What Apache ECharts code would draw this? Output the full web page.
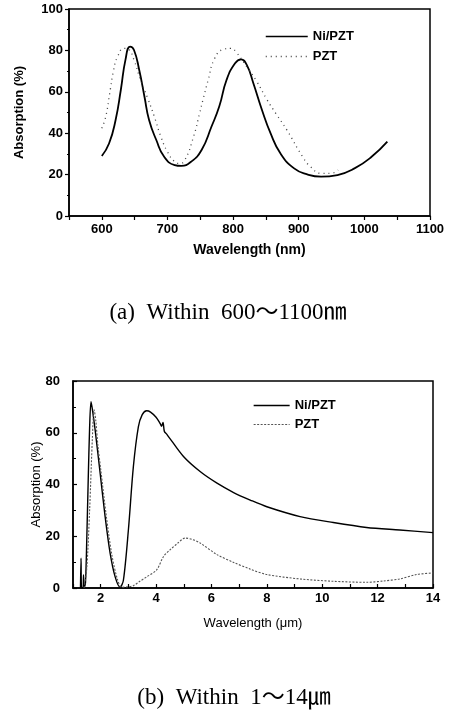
<!DOCTYPE html>
<html>
<head>
<meta charset="utf-8">
<script src="https://cdn.jsdelivr.net/npm/echarts@6/dist/echarts.min.js"></script>
<style>html,body{margin:0;padding:0;background:#fff}#c{width:451px;height:710px}</style>
</head>
<body>
<div id="c"></div>
<script>
// ---- Chart (a): 600~1100 nm ----
const wlA_ni = [600,611,621,629,636,643,649,657,665,672,683,695,711,721,736,752,767,779,790,803,812,821,831,844,857,872,893,913,934,959,985,1011,1035];
const abA_ni = [29,35,46.4,61,75.4,81.8,80.2,70.5,57.6,46.4,36.7,28.6,24.6,24.2,26.2,31.9,43.1,53,65.7,73.8,75.7,72.9,64,51.2,40,30.3,23,20.1,19,19.8,23,28.6,35.9];
const wlA_pzt = [600,606,612,618,624,634,641,649,659,670,680,690,700,711,718,726,740,749,754,762,772,785,797,805,821,836,852,865,882,906,918,934,949,960];
const abA_pzt = [42.4,48,59.3,70.5,77,81,80.5,75.4,65.7,56.8,48,38.3,31,26.2,25.4,26.7,38.6,49.6,56,65.7,76.2,80.5,81,79,72,65,56,49.6,41.5,28.6,23.8,20.6,20.6,22.2];
const xTicksA = [600,700,800,900,1000,1100];
const yTicksA = [0,20,40,60,80,100];

// ---- Chart (b): 1~14 um ----
const wlB_ni = [1.27,1.29,1.31,1.36,1.38,1.40,1.45,1.50,1.55,1.60,1.65,1.70,1.80,1.98,2.16,2.34,2.52,2.70,2.82,3.00,3.18,3.36,3.50,3.66,3.80,4.00,4.15,4.20,4.25,4.30,4.39,4.99,5.59,6.20,6.80,7.40,8.00,9.20,10.40,11.60,12.80,14.00];
const abB_ni = [0,11.5,0,0,5,0,2,20,42,62,72,69,61,44.4,27.6,13.5,4.4,0.3,3,22.4,46.9,62.3,67,68.5,68,66,63.5,62.5,64,60.5,59.4,50.8,45,40.5,36.9,34,31.4,27.6,25.3,23.4,22.4,21.4];
const wlB_pzt = [1.40,1.50,1.60,1.70,1.76,1.82,1.90,2.00,2.20,2.40,2.60,2.76,3.00,3.18,3.40,3.66,4.02,4.27,4.51,4.80,5.05,5.30,5.59,6.20,6.80,7.40,8.00,9.20,10.40,11.60,12.20,12.80,13.40,14.00];
const abB_pzt = [0,8,30,58,69,65,55,46,28,13,3.5,0.3,0.5,0.9,2.5,4.3,7,12.2,14.8,17.5,19.3,18.8,17.4,12.9,9.9,7.3,5.2,3.5,2.6,2.2,2.7,3.5,5.2,5.8];
const xTicksB = [2,4,6,8,10,12,14];
const yTicksB = [0,20,40,60,80];

const captionA = '(a)  Within  600～1100㎚';
const captionB = '(b)  Within  1～14㎛';

const zip = (xs, ys) => xs.map((x, i) => [x, ys[i]]);
const SANS = '"Liberation Sans", Arial, sans-serif';
const SERIF = '"Liberation Serif", "Noto Sans CJK SC", serif';

const chart = echarts.init(document.getElementById('c'), null, {renderer: 'canvas'});
chart.setOption({
  animation: false,
  backgroundColor: '#fff',
  grid: [
    {left: 69, top: 9, width: 361, height: 207, show: true, borderColor: '#000', borderWidth: 1.5, backgroundColor: 'transparent'},
    {left: 73, top: 381, width: 360, height: 207, show: true, borderColor: '#000', borderWidth: 1.5, backgroundColor: 'transparent'}
  ],
  xAxis: [
    {
      gridIndex: 0, type: 'value', min: 550, max: 1100, interval: 50,
      axisLine: {lineStyle: {color: '#000', width: 1.5}},
      axisTick: {inside: false, length: 4, lineStyle: {color: '#000', width: 1.2}},
      axisLabel: {formatter: v => xTicksA.includes(v) ? String(v) : '', color: '#000', fontSize: 13, fontWeight: 'bold', fontFamily: SANS, margin: 7},
      splitLine: {show: false},
      name: 'Wavelength (nm)', nameLocation: 'middle', nameGap: 27, nameMoveOverlap: false,
      nameTextStyle: {color: '#000', fontSize: 14, fontWeight: 'bold', fontFamily: SANS}
    },
    {
      gridIndex: 1, type: 'value', min: 1, max: 14, interval: 1,
      axisLine: {lineStyle: {color: '#000', width: 1.5}},
      axisTick: {inside: true, length: 4, lineStyle: {color: '#000', width: 1.2}},
      axisLabel: {formatter: v => xTicksB.includes(v) ? String(v) : '', color: '#000', fontSize: 13, fontWeight: 'bold', fontFamily: SANS, margin: 4},
      splitLine: {show: false},
      name: 'Wavelength (μm)', nameLocation: 'middle', nameGap: 29, nameMoveOverlap: false,
      nameTextStyle: {color: '#000', fontSize: 13, fontFamily: SANS}
    }
  ],
  yAxis: [
    {
      gridIndex: 0, type: 'value', min: 0, max: 100, interval: 20,
      axisLine: {show: true, lineStyle: {color: '#000', width: 1.5}},
      axisTick: {show: true, inside: false, length: 4, lineStyle: {color: '#000', width: 1.2}},
      minorTick: {show: true, splitNumber: 2, length: 2, lineStyle: {color: '#000'}},
      axisLabel: {formatter: v => yTicksA.includes(v) ? String(v) : '', color: '#000', fontSize: 13, fontWeight: 'bold', fontFamily: SANS, margin: 6},
      splitLine: {show: false},
      name: 'Absorption (%)', nameLocation: 'middle', nameGap: 43, nameMoveOverlap: false,
      nameTextStyle: {color: '#000', fontSize: 13, fontWeight: 'bold', fontFamily: SANS}
    },
    {
      gridIndex: 1, type: 'value', min: 0, max: 80, interval: 20,
      axisLine: {show: true, lineStyle: {color: '#000', width: 1.5}},
      axisTick: {show: true, inside: true, length: 4, lineStyle: {color: '#000', width: 1.2}},
      minorTick: {show: true, splitNumber: 2, length: 3, lineStyle: {color: '#000'}},
      axisLabel: {formatter: v => yTicksB.includes(v) ? String(v) : '', color: '#000', fontSize: 13, fontWeight: 'bold', fontFamily: SANS, margin: 13},
      splitLine: {show: false},
      name: 'Absorption (%)', nameLocation: 'middle', nameGap: 30, nameMoveOverlap: false,
      nameTextStyle: {color: '#000', fontSize: 13, fontFamily: SANS}
    }
  ],
  legend: [
    {
      left: 265, top: 30, padding: 0, orient: 'vertical', itemWidth: 42, itemHeight: 14, itemGap: 7,
      itemStyle: {opacity: 0},
      selectedMode: false, textStyle: {color: '#000', fontSize: 13, fontWeight: 'bold', fontFamily: SANS},
      data: [
        {name: 'Ni/PZT', lineStyle: {color: '#000', width: 1.5, type: 'solid'}},
        {name: 'PZT', lineStyle: {color: '#444', width: 1.3, type: [1, 4]}}
      ]
    },
    {
      left: 253, top: 399, padding: 0, orient: 'vertical', itemWidth: 36, itemHeight: 14, itemGap: 6,
      itemStyle: {opacity: 0},
      selectedMode: false, textStyle: {color: '#000', fontSize: 13, fontWeight: 'bold', fontFamily: SANS},
      data: [
        {name: 'Ni/PZT', lineStyle: {color: '#000', width: 1.3, type: 'solid'}},
        {name: 'PZT', lineStyle: {color: '#555', width: 1.1, type: [2, 1.5]}}
      ]
    }
  ],
  series: [
    {
      name: 'Ni/PZT', type: 'line', xAxisIndex: 0, yAxisIndex: 0, data: zip(wlA_ni, abA_ni),
      symbol: 'none', smooth: 0.5, lineStyle: {color: '#000', width: 1.8}, itemStyle: {color: '#000'}
    },
    {
      name: 'PZT', type: 'line', xAxisIndex: 0, yAxisIndex: 0, data: zip(wlA_pzt, abA_pzt),
      symbol: 'none', smooth: 0.5, lineStyle: {color: '#444', width: 1.3, type: [1, 4]}, itemStyle: {color: '#444'}
    },
    {
      name: 'Ni/PZT', type: 'line', xAxisIndex: 1, yAxisIndex: 1, data: zip(wlB_ni, abB_ni),
      symbol: 'none', smooth: 0.3, lineStyle: {color: '#000', width: 1.4}, itemStyle: {color: '#000'}
    },
    {
      name: 'PZT', type: 'line', xAxisIndex: 1, yAxisIndex: 1, data: zip(wlB_pzt, abB_pzt),
      symbol: 'none', smooth: 0.3, lineStyle: {color: '#555', width: 1.1, type: [2, 1.5]}, itemStyle: {color: '#555'}
    }
  ],
  graphic: [
    {type: 'text', style: {x: 228, y: 313, text: captionA, fill: '#000', font: '23px ' + SERIF, align: 'center', verticalAlign: 'middle'}},
    {type: 'text', style: {x: 234, y: 698, text: captionB, fill: '#000', font: '23px ' + SERIF, align: 'center', verticalAlign: 'middle'}}
  ]
});
</script>
</body>
</html>
